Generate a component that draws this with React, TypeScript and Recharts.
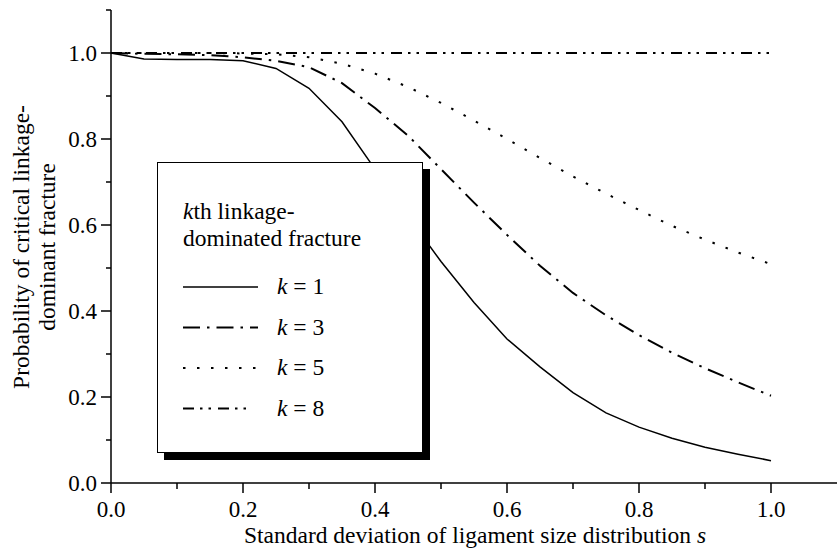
import { LineChart, Line, XAxis, YAxis, Legend } from "recharts";

// standard deviation of ligament size distribution
const sValues = [0, 0.05, 0.1, 0.15, 0.2, 0.25, 0.3, 0.35, 0.4, 0.45, 0.5, 0.55, 0.6, 0.65, 0.7, 0.75, 0.8, 0.85, 0.9, 0.95, 1.0];

// probability of critical linkage-dominant fracture, per k
const k1 = [1.0, 0.986, 0.985, 0.985, 0.982, 0.964, 0.918, 0.84, 0.73, 0.62, 0.515, 0.42, 0.335, 0.27, 0.21, 0.163, 0.13, 0.104, 0.083, 0.067, 0.052];
const k3 = [1.0, 0.998, 0.997, 0.995, 0.99, 0.982, 0.967, 0.93, 0.872, 0.808, 0.73, 0.652, 0.577, 0.505, 0.442, 0.39, 0.344, 0.303, 0.267, 0.234, 0.203];
const k5 = [1.0, 1.0, 1.0, 1.0, 0.999, 0.997, 0.99, 0.975, 0.952, 0.921, 0.884, 0.843, 0.8, 0.756, 0.713, 0.673, 0.635, 0.598, 0.566, 0.536, 0.509];
const k8 = [1.0, 1.0, 1.0, 1.0, 1.0, 1.0, 1.0, 1.0, 1.0, 1.0, 1.0, 1.0, 1.0, 1.0, 1.0, 1.0, 1.0, 1.0, 1.0, 1.0, 1.0];

const xTicks = [0, 0.1, 0.2, 0.3, 0.4, 0.5, 0.6, 0.7, 0.8, 0.9, 1.0];
const yTicks = [0, 0.1, 0.2, 0.3, 0.4, 0.5, 0.6, 0.7, 0.8, 0.9, 1.0, 1.1];

const kLabels = ["1", "3", "5", "8"];

const data = sValues.map((s, i) => ({ s, k1: k1[i], k3: k3[i], k5: k5[i], k8: k8[i] }));

const txt = { fontFamily: "Liberation Serif", fontSize: 23, fill: "#000" };
const title = { ...txt, fontSize: 23.5 };

const series = [
  { key: "k1", dash: undefined, width: 1.5 },
  { key: "k3", dash: "17 7 2.5 7", width: 2 },
  { key: "k5", dash: "2.5 11.5", width: 2 },
  { key: "k8", dash: "11 6 2.5 6 2.5 7", width: 2 },
];

const isMajor = (v: number) => Math.round(v * 10) % 2 === 0;

const XTick = (props: any) => {
  const { x, y, payload } = props;
  const major = isMajor(payload.value);
  return (
    <g>
      <line x1={x} x2={x} y1={y} y2={y + (major ? 10 : 6)} stroke="#000" strokeWidth={1.5} />
      {major && (
        <text x={x} y={y + 34} textAnchor="middle" style={txt}>
          {payload.value.toFixed(1)}
        </text>
      )}
    </g>
  );
};

const YTick = (props: any) => {
  const { x, y, payload } = props;
  const major = isMajor(payload.value) && payload.value < 1.05;
  return (
    <g>
      <line x1={x - (major ? 10 : 5)} x2={x} y1={y} y2={y} stroke="#000" strokeWidth={1.5} />
      {major && (
        <text x={x - 14} y={y + 8} textAnchor="end" style={txt}>
          {payload.value.toFixed(1)}
        </text>
      )}
    </g>
  );
};

const LegendBox = () => (
  <svg width={266} height={291} style={{ display: "block" }}>
    <text x={25} y={56} style={title}>
      <tspan fontStyle="italic">k</tspan>th linkage-
    </text>
    <text x={25} y={83} style={title}>
      dominated fracture
    </text>
    {series.map((sr, i) => {
      const ly = 124 + i * 40.5;
      return (
        <g key={sr.key}>
          <line x1={25} x2={i === 3 ? 94 : 100} y1={ly} y2={ly} stroke="#000" strokeWidth={sr.width} strokeDasharray={sr.dash} />
          <text x={119} y={ly + 7} style={title}>
            <tspan fontStyle="italic">k</tspan> = {kLabels[i]}
          </text>
        </g>
      );
    })}
  </svg>
);

export default function App() {
  return (
    <div style={{ position: "absolute", left: 0, top: 0, background: "#fff" }}>
      <LineChart width={837} height={550} data={data} margin={{ top: 10, right: 0, bottom: 0, left: 0 }}>
        <XAxis
          dataKey="s"
          type="number"
          domain={[0, 1.1]}
          ticks={xTicks}
          interval={0}
          height={67}
          tickSize={0}
          tickMargin={0}
          tickLine={false}
          tick={<XTick />}
          axisLine={{ stroke: "#000", strokeWidth: 1.5 }}
        />
        <YAxis
          type="number"
          domain={[0, 1.1]}
          ticks={yTicks}
          interval={0}
          width={111}
          tickSize={0}
          tickMargin={0}
          tickLine={false}
          tick={<YTick />}
          axisLine={{ stroke: "#000", strokeWidth: 1.5 }}
        />
        {series.map((sr) => (
          <Line
            key={sr.key}
            dataKey={sr.key}
            type="linear"
            stroke="#000"
            strokeWidth={sr.width}
            strokeDasharray={sr.dash}
            dot={false}
            activeDot={false}
            isAnimationActive={false}
          />
        ))}
        <Legend
          layout="vertical"
          align="center"
          verticalAlign="middle"
          content={() => <LegendBox />}
          wrapperStyle={{
            left: 157,
            top: 162,
            width: 266,
            height: 291,
            boxSizing: "border-box",
            background: "#fff",
            border: "1.5px solid #000",
            boxShadow: "7px 7px 0 #000",
          }}
        />
        <text x={475} y={543} textAnchor="middle" style={title}>
          Standard deviation of ligament size distribution <tspan fontStyle="italic">s</tspan>
        </text>
        <text transform="translate(29,247) rotate(-90)" textAnchor="middle" style={title}>
          Probability of critical linkage-
        </text>
        <text transform="translate(55,247) rotate(-90)" textAnchor="middle" style={title}>
          dominant fracture
        </text>
      </LineChart>
    </div>
  );
}
